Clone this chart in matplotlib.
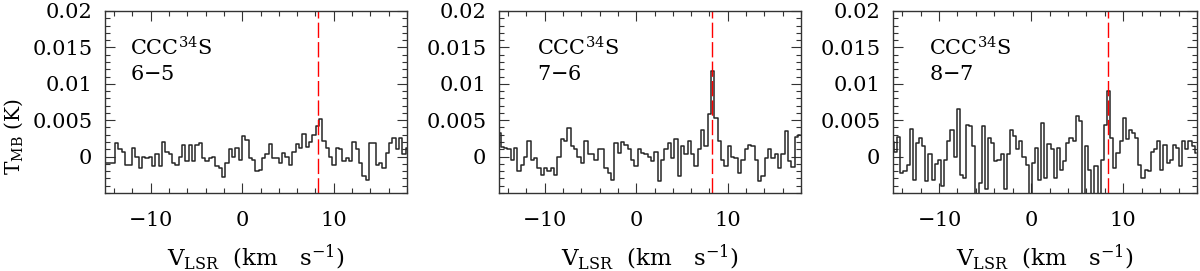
import numpy as np
import matplotlib
matplotlib.use('Agg')
from matplotlib import pyplot as plt
from matplotlib.ticker import MultipleLocator

# Antenna temperatures (mK), one value per channel
t_65 = [3.0, -0.9, -0.9, -0.9, 1.8, 1.0, 0.7, -1.1, -1.1, 1.2,
        0.0, -1.5, 0.0, -0.2, 0.0, -1.3, 0.3, -1.3, 2.0, 0.7,
        0.4, -0.9, -1.1, 0.0, 1.6, -0.6, 1.6, -0.6, 1.6, 1.9,
        -0.2, -0.6, -0.2, -0.1, -1.3, -1.5, -2.8, -0.9, 1.0, 0.0,
        1.2, -0.4, 2.8, 2.3, -0.2, -0.4, -2.0, -1.8, -0.2, 0.3,
        1.7, -0.2, -0.2, -0.9, 0.5, -0.1, -1.1, 0.7, 1.7, 1.2,
        3.1, 1.3, 2.0, 2.9, 4.2, 5.1, 2.1, 1.2, 0.0, -1.1,
        1.2, 1.0, -0.6, -0.2, -0.6, 2.0, 1.0, -0.9, -2.7, -3.2,
        1.9, 1.9, -1.1, -0.9, -1.5, 0.5, 1.9, 2.6, 1.0, 2.6, 0.3, 1.2]

t_76 = [3.2, 1.3, 1.2, 1.0, -0.4, 1.2, -2.0, -1.2, 0.0, 2.1,
        -0.4, -0.2, -1.6, -2.5, -1.6, -2.0, -1.6, -2.5, 0.0, 2.4,
        2.1, 3.9, 1.4, 1.0, 0.0, -0.9, 2.1, 0.3, 0.3, -0.4,
        1.0, 1.1, -1.6, -2.3, -3.2, 1.9, 0.5, 2.0, 1.6, 1.0,
        -0.4, -1.3, 1.1, 0.5, 0.3, 0.0, -0.6, 0.7, -3.4, -0.4,
        1.1, 1.9, -0.2, 2.4, -2.7, 1.4, 0.3, 2.1, 0.3, -1.3,
        1.0, 3.6, 1.4, 5.9, 11.7, 5.3, 2.1, -0.4, -1.3, 1.4,
        0.0, -0.2, -2.2, -0.4, 1.0, 1.6, 1.4, -0.4, -3.4, -2.7,
        -0.2, 1.0, -0.2, 0.3, -1.6, 0.3, 3.5, -0.6, -1.4, 2.7, 3.0]

t_87 = [1.0, 2.0, 0.7, 2.7, -2.3, -2.0, -1.1, 3.8, -3.2, 1.9,
        2.6, 1.4, -3.3, 0.3, -3.2, -1.0, -0.5, -4.0, -0.4, 2.2,
        3.6, 0.0, 6.5, -2.5, -2.9, 4.4, 4.2, 1.4, -6.0, -3.6,
        4.2, -4.5, 2.6, 1.9, -0.6, -0.4, 0.4, -4.5, 0.3, 3.7,
        2.8, 1.0, 2.1, 0.0, -1.1, -6.0, -0.9, 1.2, -3.2, 4.6,
        -2.9, 1.7, 1.0, -2.9, 1.2, -1.8, -0.6, 1.9, 2.6, 2.1,
        5.6, 4.9, -6.0, 1.4, -1.8, -6.0, -1.3, -6.0, -0.4, 4.4,
        9.0, 2.6, -1.6, 0.5, 2.1, 5.3, 2.4, 3.7, 3.2, 2.6,
        -1.1, -2.9, -1.8, -2.0, 0.7, 1.0, 2.1, -1.8, 1.6, -0.9,
        -0.4, 1.6, 1.2, -1.3, 2.1, 1.0, 2.1, 1.5, 0.5]

spectra = [t_65, t_76, t_87]
lines = ['6$-$5', '7$-$6', '8$-$7']
v_start = [-15.17, -15.0, -15.4]     # first channel (km/s)
v_step = [0.365, 0.365, 0.34]        # channel width (km/s)
v_sys = 8.3

plt.rcParams['font.family'] = 'DejaVu Serif'
plt.rcParams['mathtext.fontset'] = 'dejavuserif'
FS = 15

fig = plt.figure(figsize=(12, 2.71), dpi=100)
lefts = [105, 499, 893]
widths = [302, 302, 304]
text_x = [0.083, 0.126, 0.12]

for i in range(3):
    ax = fig.add_axes([lefts[i] / 1200, 78 / 271, widths[i] / 1200, 182 / 271])
    t = np.array(spectra[i]) / 1000.
    v = v_start[i] + v_step[i] * np.arange(len(t))
    ax.step(v, t, where='mid', color='#262626', lw=1.1)
    ax.axvline(v_sys, color='red', lw=1.0, dashes=(11, 3))

    ax.set_xlim(-15, 18)
    ax.set_ylim(-0.005, 0.02)
    ax.xaxis.set_major_locator(MultipleLocator(10))
    ax.xaxis.set_minor_locator(MultipleLocator(2))
    ax.yaxis.set_major_locator(MultipleLocator(0.005))
    ax.yaxis.set_minor_locator(MultipleLocator(0.001))
    ax.set_yticks([0, 0.005, 0.01, 0.015, 0.02])
    ax.set_yticklabels(['0', '0.005', '0.01', '0.015', '0.02'])
    ax.set_xticks([-10, 0, 10])
    ax.set_xticklabels(['$-$10', '0', '10'])
    ax.tick_params(which='both', direction='in', top=True, right=True,
                   width=0.8, color='#333333', labelsize=FS)
    ax.tick_params(which='major', length=7)
    ax.tick_params(which='minor', length=3.6)
    ax.tick_params(axis='x', pad=13)
    ax.tick_params(axis='y', pad=9)
    for s in ax.spines.values():
        s.set_linewidth(1.0)
        s.set_color('#333333')

    ax.text(text_x[i], 0.758, 'CCC$^{34}$S', transform=ax.transAxes,
            fontsize=FS, va='baseline', ha='left')
    ax.text(text_x[i], 0.62, lines[i], transform=ax.transAxes,
            fontsize=FS, va='baseline', ha='left')

    ax.set_xlabel('V$_{\\rm LSR}$  (km   s$^{-1}$)', fontsize=16.5)
    ax.xaxis.set_label_coords(0.5, -0.27)
    if i == 0:
        ax.set_ylabel('T$_{\\rm MB}$ (K)', fontsize=14.5)
        ax.yaxis.set_label_coords(-0.265, 0.31)

fig.savefig('out.png', dpi=100)
